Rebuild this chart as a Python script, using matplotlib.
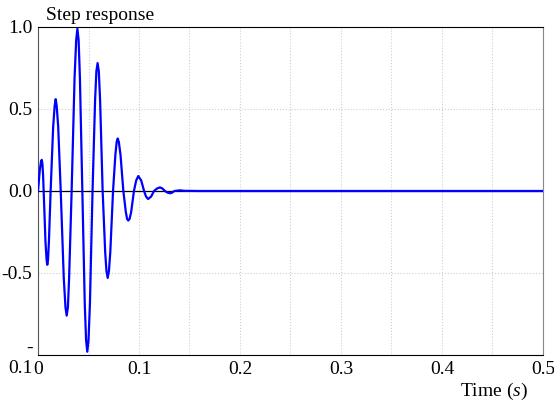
import numpy as np
import matplotlib
matplotlib.use("Agg")
import matplotlib.pyplot as plt
from matplotlib.ticker import MultipleLocator

plt.rcParams['font.family'] = ['Liberation Serif', 'DejaVu Serif']
plt.rcParams['mathtext.fontset'] = 'custom'
plt.rcParams['mathtext.rm'] = 'Liberation Serif'
plt.rcParams['mathtext.it'] = 'Liberation Serif:italic'

# step response samples (time in s, amplitude)
time = [0.0000, 0.0018, 0.0030, 0.0037, 0.0043, 0.0050, 0.0056, 0.0074, 0.0085, 0.0092, 0.0099, 0.0108,
        0.0125, 0.0150, 0.0165, 0.0175, 0.0185, 0.0200, 0.0225, 0.0255, 0.0272, 0.0284, 0.0296, 0.0308,
        0.0333, 0.0362, 0.0378, 0.0390, 0.0402, 0.0415, 0.0439, 0.0463, 0.0476, 0.0488, 0.0500, 0.0514,
        0.0540, 0.0565, 0.0578, 0.0590, 0.0602, 0.0615, 0.0640, 0.0665, 0.0678, 0.0690, 0.0702, 0.0716,
        0.0743, 0.0766, 0.0779, 0.0789, 0.0800, 0.0817, 0.0845, 0.0870, 0.0882, 0.0894, 0.0907, 0.0922,
        0.0950, 0.0972, 0.0993, 0.1022, 0.1050, 0.1070, 0.1090, 0.1120,
        0.1149, 0.1178, 0.1208, 0.1232, 0.1257, 0.1282, 0.1307, 0.1328,
        0.1350, 0.1406, 0.1450, 0.1600, 0.5000]
response = [0.00, 0.13, 0.18, 0.19, 0.17, 0.10, 0.00, -0.31, -0.42, -0.45, -0.42, -0.31,
            0.00, 0.39, 0.52, 0.56, 0.52, 0.39, 0.00, -0.53, -0.71, -0.76, -0.71, -0.53,
            0.00, 0.69, 0.92, 0.99, 0.92, 0.69, 0.00, -0.69, -0.91, -0.98, -0.91, -0.69,
            0.00, 0.55, 0.73, 0.78, 0.73, 0.55, 0.00, -0.37, -0.49, -0.53, -0.49, -0.37,
            0.00, 0.22, 0.30, 0.32, 0.30, 0.22, 0.00, -0.13, -0.17, -0.18, -0.17, -0.13,
            0.00, 0.064, 0.091, 0.064, 0.00, -0.034, -0.049, -0.034,
            0.00, 0.015, 0.022, 0.015, 0.00, -0.010, -0.014, -0.010,
            0.00, 0.004, 0.001, 0.00, 0.00]

x_ticks = [0, 0.1, 0.2, 0.3, 0.4, 0.5]
x_labels = ['0', '0.1', '0.2', '0.3', '0.4', '0.5']
y_ticks = [-1.0, -0.5, 0.0, 0.5, 1.0]
y_labels = ['-\n0.1', '-0.5', '0.0', '0.5', '1.0']

fig = plt.figure(figsize=(5.54, 4.07), dpi=100)
ax = fig.add_axes([0.0686, 0.1278, 0.9115, 0.8059])

ax.axhline(0, color='black', linewidth=0.9, zorder=2)
ax.plot(time, response, color='#0000ff', linewidth=1.6, zorder=3)

ax.set_xlim(0, 0.5)
ax.set_ylim(-1.0, 1.0)
ax.set_xticks(x_ticks)
ax.set_xticklabels(x_labels)
ax.xaxis.set_minor_locator(MultipleLocator(0.05))
ax.set_yticks(y_ticks)
ax.set_yticklabels(y_labels, multialignment='right', linespacing=1.25)
ax.tick_params(which='both', length=0, labelsize=14)
ax.tick_params(axis='x', pad=4)
ax.tick_params(axis='y', pad=4)
ax.grid(True, which='both', color='#cfcfcf', linestyle=':', linewidth=0.8)

ax.spines['top'].set_color('black')
ax.spines['bottom'].set_color('black')
ax.spines['left'].set_color('#555555')
ax.spines['right'].set_color('#888888')

ax.text(0.015, 1.008, 'Step response', transform=ax.transAxes,
        fontsize=14, ha='left', va='bottom')
ax.text(0.970, -0.112, r'Time ($\mathit{s}$)', transform=ax.transAxes,
        fontsize=14, ha='right', va='center')

fig.savefig('out.png', dpi=100)
